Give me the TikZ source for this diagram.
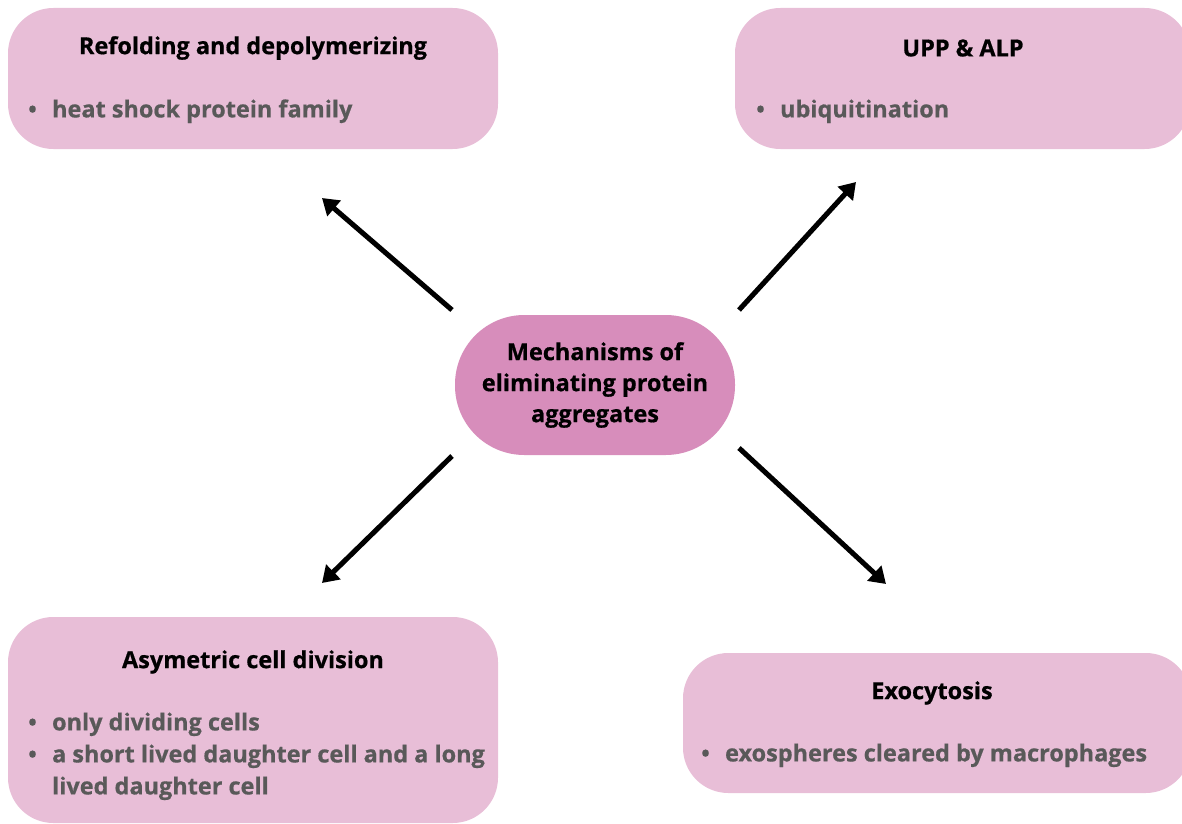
\documentclass[tikz,border=0pt]{standalone}
\usepackage{fontspec}
\setmainfont{Open Sans}[UprightFont=* Bold, FakeBold=0.6]
\usetikzlibrary{arrows.meta}
\definecolor{boxpink}{HTML}{E8BED7}
\definecolor{centerpink}{HTML}{D78DBB}
\definecolor{bodygray}{HTML}{595959}
\tikzset{
  box/.style={fill=boxpink, draw=none, rounded corners=34pt, inner sep=0pt},
  hub/.style={fill=centerpink, draw=none, rounded corners=52pt, inner sep=0pt,
              minimum width=210pt, minimum height=105pt, align=center,
              font=\fontsize{17.6}{23.25}\selectfont},
  title/.style={font=\fontsize{17.6}{24}\selectfont, text=black, inner sep=0pt},
  items/.style={font=\fontsize{17.6}{24}\selectfont, text=bodygray, inner sep=0pt, anchor=west, align=left},
  arr/.style={line width=3.8pt, -{Triangle[length=12pt,width=15pt]}, black}
}
\newcommand{\bul}{{\fontsize{17}{24}\selectfont\textbullet}}
\begin{document}
\begin{tikzpicture}[x=0.75pt,y=-0.75pt]
\useasboundingbox (0,0) rectangle (1182,824);
\clip (0,0) rectangle (1182,824);
% boxes
\node[box, minimum width=367.5pt, minimum height=105.75pt] (b1) at (253,78.5) {};
\node[box, minimum width=341.25pt, minimum height=105.75pt] (b2) at (962.5,78.5) {};
\node[box, minimum width=367.5pt, minimum height=154.5pt] (b3) at (253,720) {};
\node[box, minimum width=381pt, minimum height=105pt] (b4) at (937,723) {};
\node[hub] (c) at (595,385) {Mechanisms of\\eliminating protein\\aggregates};
% titles
\node[title] (t1) at (253,48) {Refolding and depolymerizing};
\node[title] (t2) at (963,48) {UPP \& ALP};
\node[title] (t3) at (253,662) {Asymetric cell division};
\node[title] (t4) at (932,693) {Exocytosis};
% items
\node[items] (i1) at (28,111) {\begin{tabular}{@{}l@{\hspace{11.5pt}}l@{}}\bul & heat shock protein family\end{tabular}};
\node[items] (i2) at (756,111) {\begin{tabular}{@{}l@{\hspace{11.5pt}}l@{}}\bul & ubiquitination\end{tabular}};
\node[items] (i3) at (28,756) {\begin{tabular}{@{}l@{\hspace{11.5pt}}l@{}}\bul & only dividing cells\\ \bul & a short lived daughter cell and a long\\ & lived daughter cell\end{tabular}};
\node[items] (i4) at (701,755) {\begin{tabular}{@{}l@{\hspace{11.5pt}}l@{}}\bul & exospheres cleared by macrophages\end{tabular}};
% arrow ends
\coordinate (s1) at (452,310); \coordinate (e1) at (322,198);
\coordinate (s2) at (739,310); \coordinate (e2) at (856,182);
\coordinate (s3) at (452,456); \coordinate (e3) at (322,583);
\coordinate (s4) at (739,448); \coordinate (e4) at (886,584);
\draw[arr] (s1) -- (e1);
\draw[arr] (s2) -- (e2);
\draw[arr] (s3) -- (e3);
\draw[arr] (s4) -- (e4);
\end{tikzpicture}
\end{document}
